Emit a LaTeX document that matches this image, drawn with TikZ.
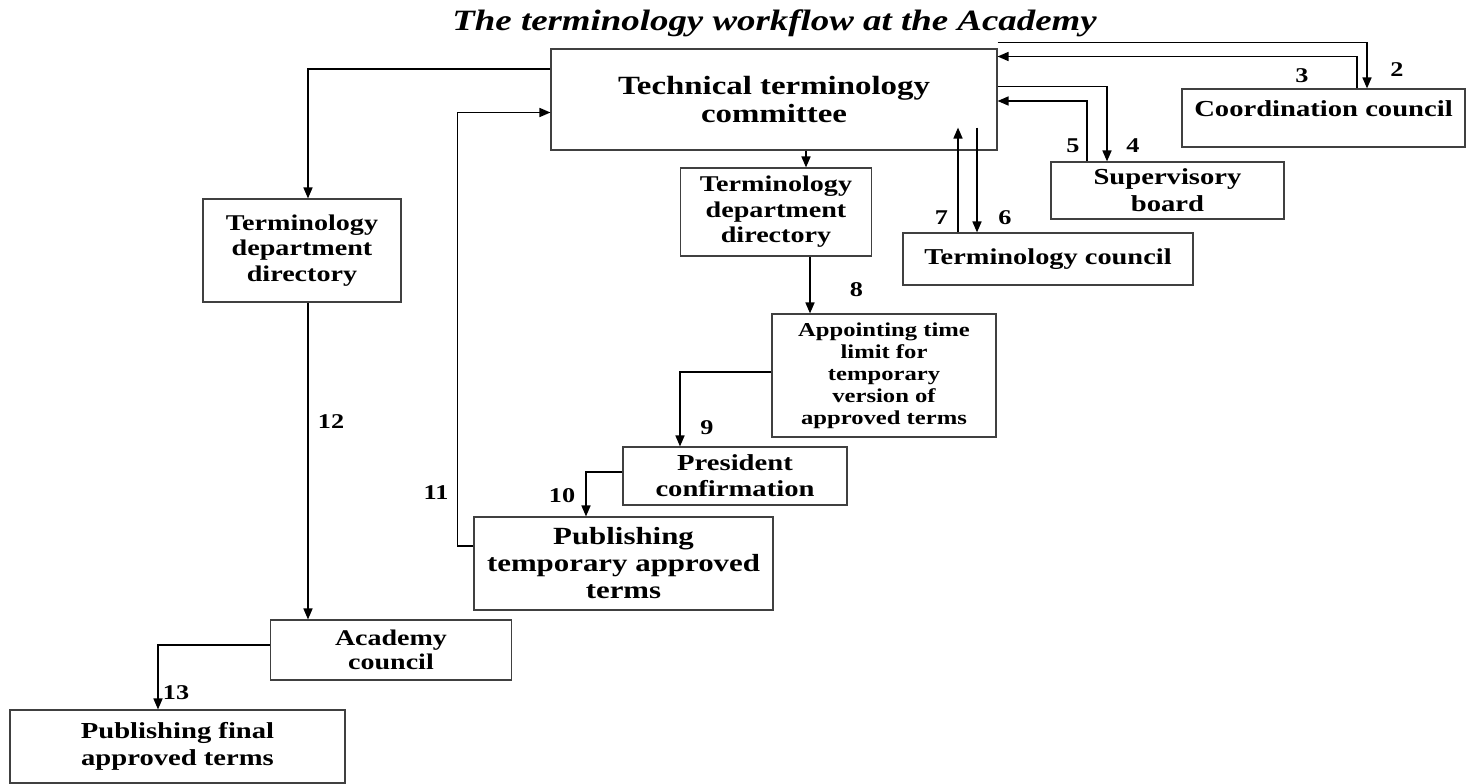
\documentclass[tikz,border=0pt]{standalone}
\usepackage{fontspec}
\setmainfont[FakeStretch=1.25]{Liberation Serif}
\usetikzlibrary{arrows.meta}

\begin{document}
\begin{tikzpicture}[x=1pt,y=-1pt,>={Triangle[length=11pt,width=9pt]},
	box/.style={draw=black!75, line width=1.1pt, inner sep=0pt, align=center},
	arr/.style={->, line width=1.6pt},
	num/.style={font=\fontsize{21}{24}\selectfont\bfseries}]
		\useasboundingbox (0,0) rectangle (1467,784);
		\node[font=\fontsize{29.5}{32}\selectfont\bfseries\itshape] (title) at (774.5,23.5) {The terminology workflow at the Academy};
		\node[box, minimum width=446pt, minimum height=101pt, font=\fontsize{26.3}{28}\selectfont\bfseries] (ttc) at (774,99.5) {Technical terminology\\committee};
		\node[box, minimum width=283pt, minimum height=58pt, text depth=18pt, font=\fontsize{22.9}{26}\selectfont\bfseries] (cc) at (1323.5,118) {Coordination council};
		\node[box, minimum width=233pt, minimum height=57pt, font=\fontsize{22.9}{27}\selectfont\bfseries] (sb) at (1167.5,190.5) {Supervisory\\board};
		\node[box, minimum width=290pt, minimum height=52pt, font=\fontsize{22.7}{26}\selectfont\bfseries] (tc) at (1048,259) {Terminology council};
		\node[box, minimum width=191pt, minimum height=88pt, font=\fontsize{22.5}{25.5}\selectfont\bfseries] (tdd2) at (776,212) {Terminology\\department\\directory};
		\node[box, minimum width=198pt, minimum height=103pt, font=\fontsize{22.5}{25.5}\selectfont\bfseries] (tdd1) at (302,250.5) {Terminology\\department\\directory};
		\node[box, minimum width=224pt, minimum height=123pt, font=\fontsize{19.7}{22}\selectfont\bfseries] (atl) at (884,375.5) {Appointing time\\limit for\\temporary\\version of\\approved terms};
		\node[box, minimum width=224pt, minimum height=58pt, font=\fontsize{22.9}{26}\selectfont\bfseries] (pc) at (735,476) {President\\confirmation};
		\node[box, minimum width=299pt, minimum height=93pt, font=\fontsize{24.7}{27}\selectfont\bfseries] (ptat) at (623.5,563.5) {Publishing\\temporary approved\\terms};
		\node[box, minimum width=241pt, minimum height=60pt, font=\fontsize{22.4}{23.6}\selectfont\bfseries] (ac) at (391,650) {Academy\\council};
		\node[box, minimum width=335pt, minimum height=73pt, font=\fontsize{22.9}{26.3}\selectfont\bfseries] (pfat) at (177.5,746.5) {Publishing final\\approved terms};
		% step numbers
		\node[num] (n2) at (1397,70) {2};
		\node[num] (n3) at (1302,76) {3};
		\node[num] (n4) at (1133,146) {4};
		\node[num] (n5) at (1073,146) {5};
		\node[num] (n6) at (1005,218) {6};
		\node[num] (n7) at (941.5,218) {7};
		\node[num] (n8) at (856.5,290) {8};
		\node[num] (n9) at (707,428) {9};
		\node[num] (n10) at (562,496) {10};
		\node[num] (n11) at (436,492.5) {11};
		\node[num] (n12) at (331,422) {12};
		\node[num] (n13) at (176,693) {13};
		% connectors
		\draw[arr] ([yshift=6pt]ttc.north east) -| ([xshift=43.5pt]cc.north);
		\draw[arr] ([xshift=33.5pt]cc.north) |- ([yshift=43pt]ttc.east);
		\draw[arr] ([yshift=13pt]ttc.east) -| ([xshift=-60.5pt]sb.north);
		\draw[arr] ([xshift=-80.5pt]sb.north) |- ([yshift=-1.5pt]ttc.east);
		\draw[arr] ([xshift=203pt,yshift=23pt]ttc.south) -- ([xshift=-71pt]tc.north);
		\draw[arr] ([xshift=-90pt]tc.north) -- ([xshift=184pt,yshift=23pt]ttc.south);
		\draw[arr] ([xshift=32pt]ttc.south) -- ([xshift=30pt]tdd2.north);
		\draw[arr] ([xshift=34pt]tdd2.south) -- ([xshift=-74pt]atl.north);
		\draw[arr] ([yshift=3.5pt]atl.west) -| ([xshift=-55pt]pc.north);
		\draw[arr] ([yshift=4pt]pc.west) -| ([xshift=-37.5pt]ptat.north);
		\draw[arr] ([yshift=17.5pt]ptat.west) -- ++(-16,0) |- ([yshift=-13pt]ttc.west);
		\draw[arr] ([yshift=30.5pt]ttc.west) -| ([xshift=6pt]tdd1.north);
		\draw[arr] ([xshift=6pt]tdd1.south) -- ([xshift=-83pt]ac.north);
		\draw[arr] ([yshift=5pt]ac.west) -| ([xshift=-19.5pt]pfat.north);
\end{tikzpicture}
\end{document}
